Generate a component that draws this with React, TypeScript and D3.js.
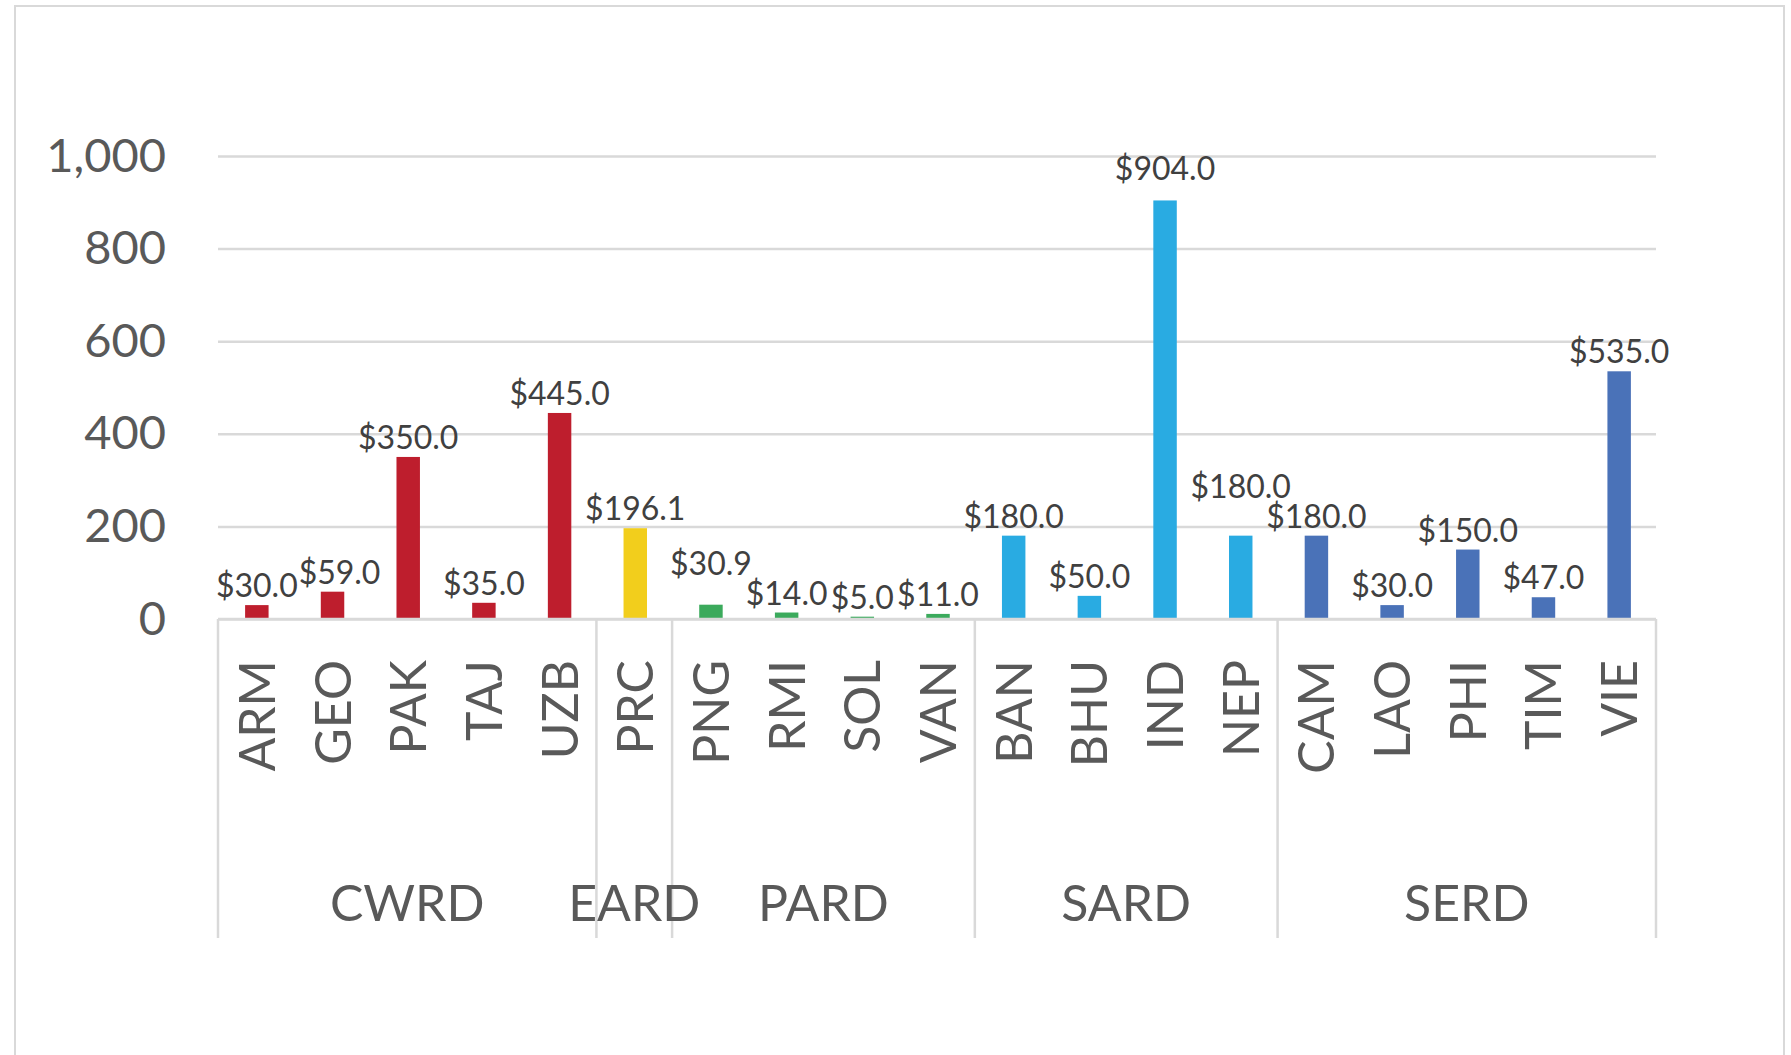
import React, { useEffect, useRef } from 'react';
import * as d3 from 'd3';

const categories = ['ARM', 'GEO', 'PAK', 'TAJ', 'UZB', 'PRC', 'PNG', 'RMI', 'SOL', 'VAN', 'BAN', 'BHU', 'IND', 'NEP', 'CAM', 'LAO', 'PHI', 'TIM', 'VIE'];
const values = [30.0, 59.0, 350.0, 35.0, 445.0, 196.1, 30.9, 14.0, 5.0, 11.0, 180.0, 50.0, 904.0, 180.0, 180.0, 30.0, 150.0, 47.0, 535.0];
const groups = ['CWRD', 'EARD', 'PARD', 'SARD', 'SERD'];
const groupSizes = [5, 1, 4, 4, 5];
const groupColors = ['#BE1E2D', '#F2CE1C', '#3BAA5C', '#29ABE2', '#4A72B8'];
const yTicks = [0, 200, 400, 600, 800, 1000];

// hand-placed data labels in the original (dx, dy)
const labelNudge: Record<string, [number, number]> = {
  GEO: [7, 0],
  PNG: [0, -22],
  IND: [0, -12],
  NEP: [0, -30],
};

const W = 1791;
const H = 1055;

const App = () => {
  const svgRef = useRef<SVGSVGElement>(null);

  useEffect(() => {
    document.body.style.margin = '0';

    const svg = d3.select(svgRef.current);
    svg.selectAll('*').remove();

    const left = 218, right = 1656, top = 156, bottom = 619;
    const font = 'Lato, "Open Sans", sans-serif';

    // which group each category belongs to
    const groupOf: number[] = [];
    groupSizes.forEach((n, gi) => { for (let i = 0; i < n; i++) groupOf.push(gi); });

    const x = d3.scaleBand<string>().domain(categories).range([left, right]).padding(0);
    const y = d3.scaleLinear().domain([0, 1000]).range([bottom, top]);
    const barW = x.bandwidth() * 0.31;

    // outer frame
    svg.append('rect')
      .attr('x', 15).attr('y', 6)
      .attr('width', 1769).attr('height', 1100)
      .attr('fill', 'none')
      .attr('stroke', '#D9D9D9')
      .attr('stroke-width', 2);

    // y axis + gridlines
    const yAxis = svg.append('g')
      .attr('transform', `translate(${left},0)`)
      .call(d3.axisLeft(y).tickValues(yTicks).tickSize(-(right - left)).tickPadding(52).tickFormat(d3.format(',')));
    yAxis.select('.domain').remove();
    yAxis.selectAll('line').attr('stroke', '#D9D9D9').attr('stroke-width', 2.5);
    yAxis.selectAll('text')
      .attr('fill', '#595959')
      .style('font-family', font)
      .style('font-size', '47px');

    // bars
    svg.selectAll('.bar')
      .data(values)
      .enter().append('rect')
      .attr('class', 'bar')
      .attr('x', (d, i) => x(categories[i])! + (x.bandwidth() - barW) / 2 + 1)
      .attr('y', d => y(d))
      .attr('width', barW)
      .attr('height', d => y(0) - y(d))
      .attr('fill', (d, i) => groupColors[groupOf[i]]);

    // category axis baseline
    svg.append('line')
      .attr('x1', left).attr('x2', right)
      .attr('y1', bottom).attr('y2', bottom)
      .attr('stroke', '#D9D9D9').attr('stroke-width', 2.5);

    // group separators
    let start = 0;
    const bounds: number[] = [left];
    const centers: number[] = [];
    groupSizes.forEach(n => {
      const x0 = x(categories[start])!;
      const x1 = x(categories[start + n - 1])! + x.bandwidth();
      bounds.push(x1);
      centers.push((x0 + x1) / 2);
      start += n;
    });
    svg.selectAll('.sep')
      .data(bounds)
      .enter().append('line')
      .attr('class', 'sep')
      .attr('x1', d => d).attr('x2', d => d)
      .attr('y1', bottom).attr('y2', 938)
      .attr('stroke', '#D9D9D9').attr('stroke-width', 2.5);

    // data labels
    svg.selectAll('.val')
      .data(values)
      .enter().append('text')
      .attr('class', 'val')
      .attr('x', (d, i) => x(categories[i])! + x.bandwidth() / 2 + 1 + (labelNudge[categories[i]]?.[0] ?? 0))
      .attr('y', (d, i) => y(d) - 8 + (labelNudge[categories[i]]?.[1] ?? 0))
      .attr('text-anchor', 'middle')
      .attr('fill', '#404040')
      .style('font-family', font)
      .style('font-size', '32px')
      .text(d => `$${d3.format('.1f')(d)}`);

    // rotated category labels
    svg.selectAll('.cat')
      .data(categories)
      .enter().append('text')
      .attr('class', 'cat')
      .attr('transform', d => `translate(${x(d)! + x.bandwidth() / 2 + 1},660) rotate(-90)`)
      .attr('dy', '0.36em')
      .attr('text-anchor', 'end')
      .attr('fill', '#595959')
      .style('font-family', font)
      .style('font-size', '50px')
      .text(d => d);

    // group labels
    svg.selectAll('.grp')
      .data(groups)
      .enter().append('text')
      .attr('class', 'grp')
      .attr('x', (d, i) => centers[i])
      .attr('y', 921)
      .attr('text-anchor', 'middle')
      .attr('fill', '#595959')
      .style('font-family', font)
      .style('font-size', '50px')
      .text(d => d);
  }, []);

  return <svg ref={svgRef} width={W} height={H} style={{ display: 'block', background: '#fff' }}></svg>;
};

export default App;
